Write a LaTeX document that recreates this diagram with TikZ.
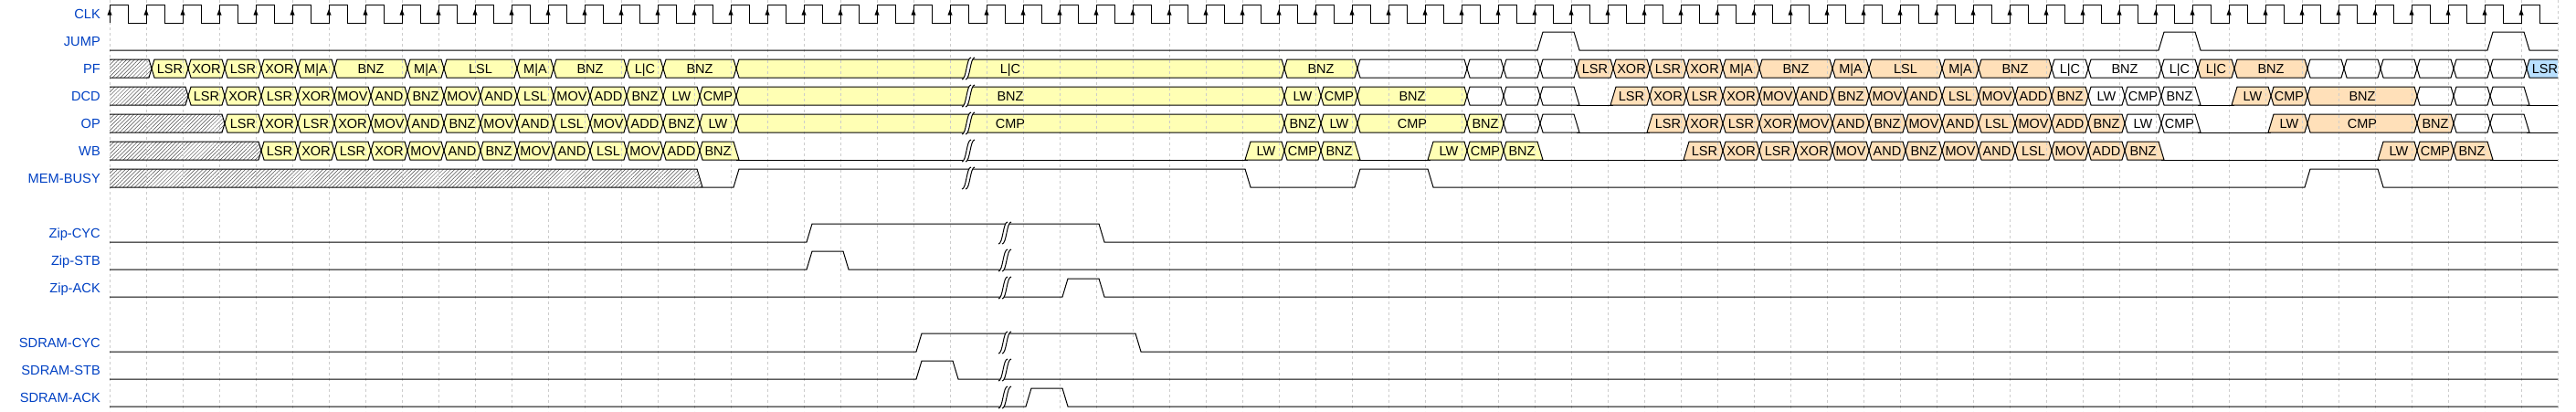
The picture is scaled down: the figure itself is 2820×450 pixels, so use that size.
\documentclass[tikz,border=0pt]{standalone}
\usepackage{fontspec}
\setmainfont{Liberation Sans}
\usetikzlibrary{patterns.meta}
\definecolor{labblue}{HTML}{0041C4}
\definecolor{wyel}{HTML}{FFFFB4}
\definecolor{worg}{HTML}{FFE0B9}
\definecolor{wblu}{HTML}{B9E0FF}
\definecolor{gridc}{HTML}{CCCCCC}
\pgfdeclarelayer{fills}
\pgfdeclarelayer{gridl}
\pgfsetlayers{fills,gridl,main}
\tikzset{
  sig/.style={line width=1pt, black, line join=miter},
  yel/.style={fill=wyel},
  org/.style={fill=worg},
  blu/.style={fill=wblu},
  wht/.style={fill=white},
  hat/.style={pattern={Lines[angle=45,distance=3pt,line width=0.5pt]}, pattern color=black!70},
  dtext/.style={anchor=base, inner sep=0pt, font=\fontsize{14.5}{17}\selectfont},
  ltext/.style={anchor=base east, inner sep=0pt, text=labblue, font=\fontsize{14.67}{17}\selectfont},
  gridline/.style={gridc, line width=0.6pt, dash pattern=on 3pt off 3pt},
}
\def\rowCLK{5}\def\rowJUMP{35}\def\rowPF{65}\def\rowDCD{95}\def\rowOP{125}\def\rowWB{155}\def\rowMEM{185}
\def\shpX{\def\cfill{(\xa,\ym) -- (\xa+3,\yt) -- (\xb-3,\yt) -- (\xb,\ym) -- (\xb-3,\yb) -- (\xa+3,\yb) -- cycle}\let\cstroke\cfill}
\def\shpS{\def\cfill{(120,\yt) -- (\xb-3,\yt) -- (\xb,\ym) -- (\xb-3,\yb) -- (120,\yb) -- cycle}\def\cstroke{(120,\yt) -- (\xb-3,\yt) -- (\xb,\ym) -- (\xb-3,\yb) -- (120,\yb)}}
\def\shpF{\def\cfill{(\xa,\ym) -- (\xa+3,\yt) -- (\xb-3,\yt) -- (\xb+3,\yb) -- (\xa+3,\yb) -- cycle}\let\cstroke\cfill}
\def\shpR{\def\cfill{(\xa-3,\yb) -- (\xa+3,\yt) -- (\xb-3,\yt) -- (\xb,\ym) -- (\xb-3,\yb) -- cycle}\let\cstroke\cfill}
\def\shpE{\def\cfill{(\xa,\ym) -- (\xa+3,\yt) -- (2800,\yt) -- (2800,\yb) -- (\xa+3,\yb) -- cycle}\def\cstroke{(2800,\yt) -- (\xa+3,\yt) -- (\xa,\ym) -- (\xa+3,\yb) -- (2800,\yb)}}
\def\shpSF{\def\cfill{(120,\yt) -- (\xb-3,\yt) -- (\xb+3,\yb) -- (120,\yb) -- cycle}\def\cstroke{(120,\yt) -- (\xb-3,\yt) -- (\xb+3,\yb)}}
\newcommand{\Cell}[6]{%
  \pgfmathsetmacro\xa{126+40*#2}%
  \pgfmathsetmacro\xb{126+40*#3}%
  \pgfmathsetmacro\xm{(\xa+\xb)/2}%
  \pgfmathsetmacro\yt{\csname row#1\endcsname}%
  \pgfmathsetmacro\ym{\yt+10}%
  \pgfmathsetmacro\yb{\yt+20}%
  \csname shp#6\endcsname
  \begin{pgfonlayer}{fills}\fill[#4] \cfill;\end{pgfonlayer}%
  \draw[sig] \cstroke;%
  \if\relax\detokenize{#5}\relax\else
    \node[dtext] (#1-#2) at (\xm,\yt+15.5) {#5};%
  \fi}
\newcommand{\Low}[3]{%
  \pgfmathsetmacro\xa{126+40*#2}%
  \pgfmathsetmacro\xb{min(126+40*#3,2800)}%
  \pgfmathsetmacro\yb{\csname row#1\endcsname+20}%
  \draw[sig] (\xa,\yb) -- (\xb,\yb);}
\newcommand{\Gap}[2]{%
  \begin{scope}[shift={(#1,#2)}]
    \fill[white] (7,-2) -- (3,-2) .. controls (-2,-2) and (-2,22) .. (-7,22) -- (-3,22) .. controls (2,22) and (2,-2) .. (7,-2) -- cycle;
    \draw[sig] (-7,22) .. controls (-2,22) and (-2,-2) .. (3,-2);
    \draw[sig] (-3,22) .. controls (2,22) and (2,-2) .. (7,-2);
  \end{scope}}
\begin{document}
\begin{tikzpicture}[x=1pt,y=-1pt]
\useasboundingbox (0,0) rectangle (2820,450);
\begin{pgfonlayer}{fills}\fill[white] (0,0) rectangle (2820,450);\end{pgfonlayer}
% grid
\begin{pgfonlayer}{gridl}
\foreach \i in {0,...,67} \draw[gridline] ({120+40*\i},0) -- ({120+40*\i},450);
\end{pgfonlayer}
% labels
\node[ltext] (lCLK) at (110,20.5) {CLK};
\node[ltext] (lJUMP) at (110,50.5) {JUMP};
\node[ltext] (lPF) at (110,80.5) {PF};
\node[ltext] (lDCD) at (110,110.5) {DCD};
\node[ltext] (lOP) at (110,140.5) {OP};
\node[ltext] (lWB) at (110,170.5) {WB};
\node[ltext] (lMEM) at (110,200.5) {MEM-BUSY};
\node[ltext] (lZC) at (110,260.5) {Zip-CYC};
\node[ltext] (lZS) at (110,290.5) {Zip-STB};
\node[ltext] (lZA) at (110,320.5) {Zip-ACK};
\node[ltext] (lSC) at (110,380.5) {SDRAM-CYC};
\node[ltext] (lSS) at (110,410.5) {SDRAM-STB};
\node[ltext] (lSA) at (110,440.5) {SDRAM-ACK};
% clock
\draw[sig] (120,25) foreach \i in {0,...,66} { -- ({120+40*\i},5) -- ({140+40*\i},5) -- ({140+40*\i},25) -- ({160+40*\i},25) };
\foreach \i in {0,...,66} \fill ({120+40*\i},10) -- ({117.5+40*\i},16.5) -- ({122.5+40*\i},16.5) -- cycle;
% JUMP
\draw[sig] (120,55) -- (1683,55) -- (1689,35) -- (1723,35) -- (1729,55) -- (2363,55) -- (2369,35) -- (2403,35) -- (2409,55) -- (2723,55) -- (2729,35) -- (2763,35) -- (2769,55) -- (2800,55);
% PF
\Cell{PF}{0}{1}{hat}{}{S}
\Cell{PF}{1}{2}{yel}{LSR}{X}
\Cell{PF}{2}{3}{yel}{XOR}{X}
\Cell{PF}{3}{4}{yel}{LSR}{X}
\Cell{PF}{4}{5}{yel}{XOR}{X}
\Cell{PF}{5}{6}{yel}{M|A}{X}
\Cell{PF}{6}{8}{yel}{BNZ}{X}
\Cell{PF}{8}{9}{yel}{M|A}{X}
\Cell{PF}{9}{11}{yel}{LSL}{X}
\Cell{PF}{11}{12}{yel}{M|A}{X}
\Cell{PF}{12}{14}{yel}{BNZ}{X}
\Cell{PF}{14}{15}{yel}{L|C}{X}
\Cell{PF}{15}{17}{yel}{BNZ}{X}
\Cell{PF}{17}{32}{yel}{L|C}{X}
\Cell{PF}{32}{34}{yel}{BNZ}{X}
\Cell{PF}{34}{37}{wht}{}{X}
\Cell{PF}{37}{38}{wht}{}{X}
\Cell{PF}{38}{39}{wht}{}{X}
\Cell{PF}{39}{40}{wht}{}{X}
\Cell{PF}{40}{41}{org}{LSR}{X}
\Cell{PF}{41}{42}{org}{XOR}{X}
\Cell{PF}{42}{43}{org}{LSR}{X}
\Cell{PF}{43}{44}{org}{XOR}{X}
\Cell{PF}{44}{45}{org}{M|A}{X}
\Cell{PF}{45}{47}{org}{BNZ}{X}
\Cell{PF}{47}{48}{org}{M|A}{X}
\Cell{PF}{48}{50}{org}{LSL}{X}
\Cell{PF}{50}{51}{org}{M|A}{X}
\Cell{PF}{51}{53}{org}{BNZ}{X}
\Cell{PF}{53}{54}{wht}{L|C}{X}
\Cell{PF}{54}{56}{wht}{BNZ}{X}
\Cell{PF}{56}{57}{wht}{L|C}{X}
\Cell{PF}{57}{58}{org}{L|C}{X}
\Cell{PF}{58}{60}{org}{BNZ}{X}
\Cell{PF}{60}{61}{wht}{}{X}
\Cell{PF}{61}{62}{wht}{}{X}
\Cell{PF}{62}{63}{wht}{}{X}
\Cell{PF}{63}{64}{wht}{}{X}
\Cell{PF}{64}{65}{wht}{}{X}
\Cell{PF}{65}{66}{wht}{}{X}
\Cell{PF}{66}{67}{blu}{LSR}{E}
% DCD
\Cell{DCD}{0}{2}{hat}{}{S}
\Cell{DCD}{2}{3}{yel}{LSR}{X}
\Cell{DCD}{3}{4}{yel}{XOR}{X}
\Cell{DCD}{4}{5}{yel}{LSR}{X}
\Cell{DCD}{5}{6}{yel}{XOR}{X}
\Cell{DCD}{6}{7}{yel}{MOV}{X}
\Cell{DCD}{7}{8}{yel}{AND}{X}
\Cell{DCD}{8}{9}{yel}{BNZ}{X}
\Cell{DCD}{9}{10}{yel}{MOV}{X}
\Cell{DCD}{10}{11}{yel}{AND}{X}
\Cell{DCD}{11}{12}{yel}{LSL}{X}
\Cell{DCD}{12}{13}{yel}{MOV}{X}
\Cell{DCD}{13}{14}{yel}{ADD}{X}
\Cell{DCD}{14}{15}{yel}{BNZ}{X}
\Cell{DCD}{15}{16}{yel}{LW}{X}
\Cell{DCD}{16}{17}{yel}{CMP}{X}
\Cell{DCD}{17}{32}{yel}{BNZ}{X}
\Cell{DCD}{32}{33}{yel}{LW}{X}
\Cell{DCD}{33}{34}{yel}{CMP}{X}
\Cell{DCD}{34}{37}{yel}{BNZ}{X}
\Cell{DCD}{37}{38}{wht}{}{X}
\Cell{DCD}{38}{39}{wht}{}{X}
\Cell{DCD}{39}{40}{wht}{}{F}
\Low{DCD}{40}{41}
\Cell{DCD}{41}{42}{org}{LSR}{R}
\Cell{DCD}{42}{43}{org}{XOR}{X}
\Cell{DCD}{43}{44}{org}{LSR}{X}
\Cell{DCD}{44}{45}{org}{XOR}{X}
\Cell{DCD}{45}{46}{org}{MOV}{X}
\Cell{DCD}{46}{47}{org}{AND}{X}
\Cell{DCD}{47}{48}{org}{BNZ}{X}
\Cell{DCD}{48}{49}{org}{MOV}{X}
\Cell{DCD}{49}{50}{org}{AND}{X}
\Cell{DCD}{50}{51}{org}{LSL}{X}
\Cell{DCD}{51}{52}{org}{MOV}{X}
\Cell{DCD}{52}{53}{org}{ADD}{X}
\Cell{DCD}{53}{54}{org}{BNZ}{X}
\Cell{DCD}{54}{55}{wht}{LW}{X}
\Cell{DCD}{55}{56}{wht}{CMP}{X}
\Cell{DCD}{56}{57}{wht}{BNZ}{F}
\Low{DCD}{57}{58}
\Cell{DCD}{58}{59}{org}{LW}{R}
\Cell{DCD}{59}{60}{org}{CMP}{X}
\Cell{DCD}{60}{63}{org}{BNZ}{X}
\Cell{DCD}{63}{64}{wht}{}{X}
\Cell{DCD}{64}{65}{wht}{}{X}
\Cell{DCD}{65}{66}{wht}{}{F}
\Low{DCD}{66}{67}
% OP
\Cell{OP}{0}{3}{hat}{}{S}
\Cell{OP}{3}{4}{yel}{LSR}{X}
\Cell{OP}{4}{5}{yel}{XOR}{X}
\Cell{OP}{5}{6}{yel}{LSR}{X}
\Cell{OP}{6}{7}{yel}{XOR}{X}
\Cell{OP}{7}{8}{yel}{MOV}{X}
\Cell{OP}{8}{9}{yel}{AND}{X}
\Cell{OP}{9}{10}{yel}{BNZ}{X}
\Cell{OP}{10}{11}{yel}{MOV}{X}
\Cell{OP}{11}{12}{yel}{AND}{X}
\Cell{OP}{12}{13}{yel}{LSL}{X}
\Cell{OP}{13}{14}{yel}{MOV}{X}
\Cell{OP}{14}{15}{yel}{ADD}{X}
\Cell{OP}{15}{16}{yel}{BNZ}{X}
\Cell{OP}{16}{17}{yel}{LW}{X}
\Cell{OP}{17}{32}{yel}{CMP}{X}
\Cell{OP}{32}{33}{yel}{BNZ}{X}
\Cell{OP}{33}{34}{yel}{LW}{X}
\Cell{OP}{34}{37}{yel}{CMP}{X}
\Cell{OP}{37}{38}{yel}{BNZ}{X}
\Cell{OP}{38}{39}{wht}{}{X}
\Cell{OP}{39}{40}{wht}{}{F}
\Low{OP}{40}{42}
\Cell{OP}{42}{43}{org}{LSR}{R}
\Cell{OP}{43}{44}{org}{XOR}{X}
\Cell{OP}{44}{45}{org}{LSR}{X}
\Cell{OP}{45}{46}{org}{XOR}{X}
\Cell{OP}{46}{47}{org}{MOV}{X}
\Cell{OP}{47}{48}{org}{AND}{X}
\Cell{OP}{48}{49}{org}{BNZ}{X}
\Cell{OP}{49}{50}{org}{MOV}{X}
\Cell{OP}{50}{51}{org}{AND}{X}
\Cell{OP}{51}{52}{org}{LSL}{X}
\Cell{OP}{52}{53}{org}{MOV}{X}
\Cell{OP}{53}{54}{org}{ADD}{X}
\Cell{OP}{54}{55}{org}{BNZ}{X}
\Cell{OP}{55}{56}{wht}{LW}{X}
\Cell{OP}{56}{57}{wht}{CMP}{F}
\Low{OP}{57}{59}
\Cell{OP}{59}{60}{org}{LW}{R}
\Cell{OP}{60}{63}{org}{CMP}{X}
\Cell{OP}{63}{64}{org}{BNZ}{X}
\Cell{OP}{64}{65}{wht}{}{X}
\Cell{OP}{65}{66}{wht}{}{F}
\Low{OP}{66}{67}
% WB
\Cell{WB}{0}{4}{hat}{}{S}
\Cell{WB}{4}{5}{yel}{LSR}{X}
\Cell{WB}{5}{6}{yel}{XOR}{X}
\Cell{WB}{6}{7}{yel}{LSR}{X}
\Cell{WB}{7}{8}{yel}{XOR}{X}
\Cell{WB}{8}{9}{yel}{MOV}{X}
\Cell{WB}{9}{10}{yel}{AND}{X}
\Cell{WB}{10}{11}{yel}{BNZ}{X}
\Cell{WB}{11}{12}{yel}{MOV}{X}
\Cell{WB}{12}{13}{yel}{AND}{X}
\Cell{WB}{13}{14}{yel}{LSL}{X}
\Cell{WB}{14}{15}{yel}{MOV}{X}
\Cell{WB}{15}{16}{yel}{ADD}{X}
\Cell{WB}{16}{17}{yel}{BNZ}{F}
\Low{WB}{17}{31}
\Cell{WB}{31}{32}{yel}{LW}{R}
\Cell{WB}{32}{33}{yel}{CMP}{X}
\Cell{WB}{33}{34}{yel}{BNZ}{F}
\Low{WB}{34}{36}
\Cell{WB}{36}{37}{yel}{LW}{R}
\Cell{WB}{37}{38}{yel}{CMP}{X}
\Cell{WB}{38}{39}{yel}{BNZ}{F}
\Low{WB}{39}{43}
\Cell{WB}{43}{44}{org}{LSR}{R}
\Cell{WB}{44}{45}{org}{XOR}{X}
\Cell{WB}{45}{46}{org}{LSR}{X}
\Cell{WB}{46}{47}{org}{XOR}{X}
\Cell{WB}{47}{48}{org}{MOV}{X}
\Cell{WB}{48}{49}{org}{AND}{X}
\Cell{WB}{49}{50}{org}{BNZ}{X}
\Cell{WB}{50}{51}{org}{MOV}{X}
\Cell{WB}{51}{52}{org}{AND}{X}
\Cell{WB}{52}{53}{org}{LSL}{X}
\Cell{WB}{53}{54}{org}{MOV}{X}
\Cell{WB}{54}{55}{org}{ADD}{X}
\Cell{WB}{55}{56}{org}{BNZ}{F}
\Low{WB}{56}{62}
\Cell{WB}{62}{63}{org}{LW}{R}
\Cell{WB}{63}{64}{org}{CMP}{X}
\Cell{WB}{64}{65}{org}{BNZ}{F}
\Low{WB}{65}{67}
% MEM-BUSY
\Cell{MEM}{0}{16}{hat}{}{SF}
\draw[sig] (120,205) -- (803,205) -- (809,185) -- (1363,185) -- (1369,205) -- (1483,205) -- (1489,185) -- (1563,185) -- (1569,205) -- (2523,205) -- (2529,185) -- (2603,185) -- (2609,205) -- (2800,205);
% lower bus signals
\draw[sig] (120,265) -- (883,265) -- (889,245) -- (1203,245) -- (1209,265) -- (2800,265);
\draw[sig] (120,295) -- (883,295) -- (889,275) -- (923,275) -- (929,295) -- (2800,295);
\draw[sig] (120,325) -- (1163,325) -- (1169,305) -- (1203,305) -- (1209,325) -- (2800,325);
\draw[sig] (120,385) -- (1003,385) -- (1009,365) -- (1243,365) -- (1249,385) -- (2800,385);
\draw[sig] (120,415) -- (1003,415) -- (1009,395) -- (1043,395) -- (1049,415) -- (2800,415);
\draw[sig] (120,445) -- (1123,445) -- (1129,425) -- (1163,425) -- (1169,445) -- (2800,445);
% gaps
\foreach \t in {65,95,125,155,185} \Gap{1060}{\t};
\foreach \t in {245,275,305,365,395,425} \Gap{1100}{\t};
\end{tikzpicture}
\end{document}
